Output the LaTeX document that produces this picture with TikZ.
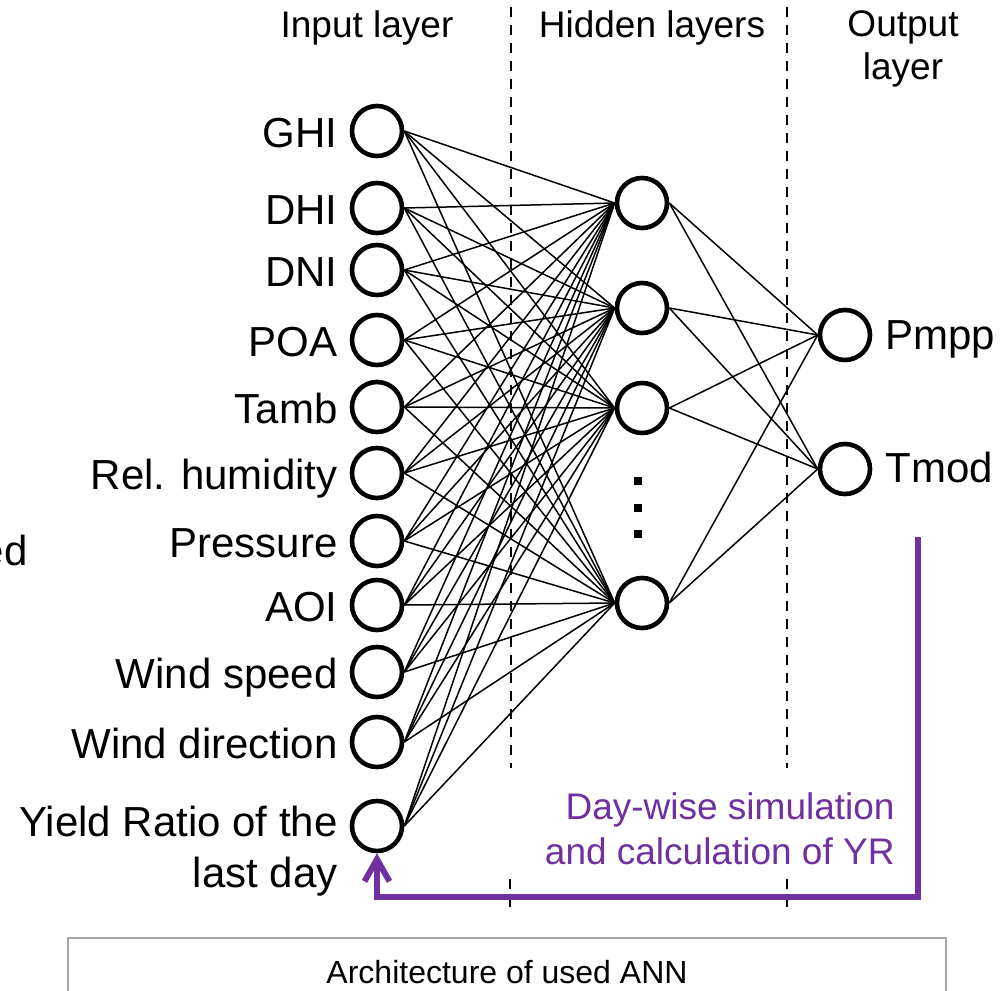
\documentclass[tikz,border=0pt]{standalone}
\usepackage{fontspec}
\setmainfont{Liberation Sans}
\usetikzlibrary{arrows.meta}
\definecolor{fbpurple}{HTML}{7030A0}
\definecolor{boxgray}{HTML}{A6A6A6}

\begin{document}
\begin{tikzpicture}[x=0.5pt,y=-0.5pt,
  neuron/.style={circle,draw,line width=2.3pt,minimum size=25pt,inner sep=0pt},
  inlbl/.style={font=\fontsize{21}{25.5}\selectfont,anchor=base east,inner sep=0pt},
  outlbl/.style={font=\fontsize{21}{25.5}\selectfont,anchor=base west,inner sep=0pt},
  head/.style={font=\fontsize{18.5}{22}\selectfont,align=center,inner sep=0pt},
  link/.style={line width=0.75pt},
  sep/.style={line width=0.8pt,dash pattern=on 5pt off 4pt},
  feedback/.style={draw=fbpurple,line width=3pt,
    -{Straight Barb[length=11pt,width=12.5pt,line width=3pt]}},
]
\useasboundingbox (0,0) rectangle (1008,991);

% layer separators
\draw[sep] (511,7) -- (511,768);
\draw[sep] (787,7) -- (787,768);
\draw[sep] (510,879) -- (510,907);
\draw[sep] (787,879) -- (787,907);

% headings
\node[head,anchor=base] (hin) at (367,37) {Input layer};
\node[head,anchor=base] (hhid) at (652,37) {Hidden layers};
\node[head,anchor=north] (hout) at (903,10) {Output\\[-0.5pt]layer};

% input layer
\foreach \name/\y/\txt in {
  i1/131/GHI, i2/208/DHI, i3/270/DNI, i4/340/POA, i5/407/Tamb,
  i6/473/Rel. humidity, i7/541/Pressure, i8/605/AOI,
  i9/672/Wind speed, i10/742/Wind direction}{
  \node[neuron] (\name) at (377,\y) {};
  \node[inlbl] (\name-l) at (338,\y+16) {\txt};
}
\node[neuron] (i11) at (377,826) {};
\node[font=\fontsize{21}{25.5}\selectfont,align=right,anchor=east,inner sep=0pt]
  (i11-l) at (338,851) {Yield Ratio of the\\last day};

% hidden layer
\foreach \name/\y in {h1/203, h2/308, h3/408, h4/603}{
  \node[neuron] (\name) at (642,\y) {};
}
\foreach \y in {481,508,534}{
  \fill (634,\y-4) rectangle (642,\y+4);
}

% output layer
\node[neuron] (o1) at (845,335) {};
\node[neuron] (o2) at (845,469) {};
\node[outlbl] (o1-l) at (885,349) {Pmpp};
\node[outlbl] (o2-l) at (885,482) {Tmod};

% connections
\foreach \i in {1,...,11}{
  \foreach \h in {1,...,4}{
    \draw[link] (i\i.east) -- (h\h.west);
  }
}
\foreach \h in {1,...,4}{
  \foreach \o in {1,2}{
    \draw[link] (h\h.east) -- (o\o.west);
  }
}

% feedback loop
\coordinate (fbstart) at (918,537);
\coordinate (fbcorner) at (918,897);
\draw[feedback] (fbstart) -- (fbcorner) -| (i11.south);
\node[font=\fontsize{18.5}{22.5}\selectfont,text=fbpurple,align=right,anchor=east,inner sep=0pt]
  (fbl) at (895,829) {Day-wise simulation\\and calculation of YR};

% partly visible text at the left edge
\node[inlbl] (edge) at (28,565) {ed};

% caption frame
\draw[boxgray,line width=1pt] (68,1000) -- (68,938) -- (946,938) -- (946,1000);
\node[font=\fontsize{16}{19}\selectfont,inner sep=0pt] (cap) at (507,972) {Architecture of used ANN};
\end{tikzpicture}
\end{document}
